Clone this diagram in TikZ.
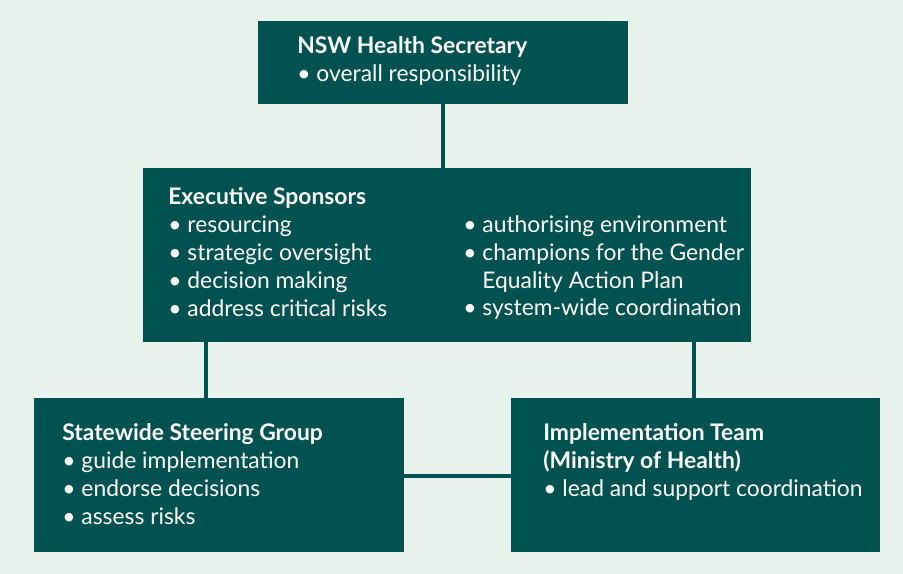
\documentclass[tikz,border=0pt]{standalone}
\usepackage{fontspec}
\setmainfont{Lato}
\usetikzlibrary{positioning}
\definecolor{mint}{HTML}{E8F3EE}
\definecolor{teal}{HTML}{005250}
\tikzset{
  box/.style={fill=teal,inner sep=0pt,anchor=north west},
  txt/.style={text=white,anchor=north west,inner sep=0pt,align=left,
    font=\fontsize{13}{15.9}\selectfont},
  link/.style={draw=teal,line width=2.8pt}
}
\begin{document}
\begin{tikzpicture}[x=0.02cm,y=-0.02cm]
		\useasboundingbox[fill=mint] (0,0) rectangle (903,574);
		\node [box,minimum width=7.4cm,minimum height=1.66cm] (secretary) at (258,21) {};
		\node [box,minimum width=12.16cm,minimum height=3.48cm] (sponsors) at (143,168) {};
		\node [box,minimum width=7.4cm,minimum height=3.08cm] (steering) at (34,398) {};
		\node [box,minimum width=7.38cm,minimum height=3.08cm] (impl) at (511,398) {};

		\node [txt] (secretarytext) at (297,36) {\textbf{NSW Health Secretary}\\• overall responsibility};
		\node [txt] (sponsorsleft) at (168,187) {\textbf{Executive Sponsors}\\• resourcing\\• strategic oversight\\• decision making\\• address critical risks};
		\node [txt] (sponsorsright) at (463,215) {• authorising environment\\• champions for the Gender\\\phantom{• }Equality Action Plan\\• system-wide coordination};
		\node [txt] (steeringtext) at (62,423) {\textbf{Statewide Steering Group}\\• guide implementation\\• endorse decisions\\• assess risks};
		\node [txt] (impltext) at (543,423) {\textbf{Implementation Team}\\\textbf{(Ministry of Health)}\\• lead and support coordination};

		\coordinate (sponsorsa) at (206,342);
		\coordinate (sponsorsb) at (694,342);
		\coordinate (steeringtop) at (206,398);
		\coordinate (impltop) at (694,398);
		\coordinate (steeringright) at (404,476);
		\coordinate (impleft) at (511,476);
		\coordinate (secretarybottom) at (443,104);
		\coordinate (sponsorstop) at (443,168);

		\draw [link] (secretarybottom) -- (sponsorstop);
		\draw [link] (sponsorsa) -- (steeringtop);
		\draw [link] (sponsorsb) -- (impltop);
		\draw [link] (steeringright) -- (impleft);
	\end{tikzpicture}
\end{document}
